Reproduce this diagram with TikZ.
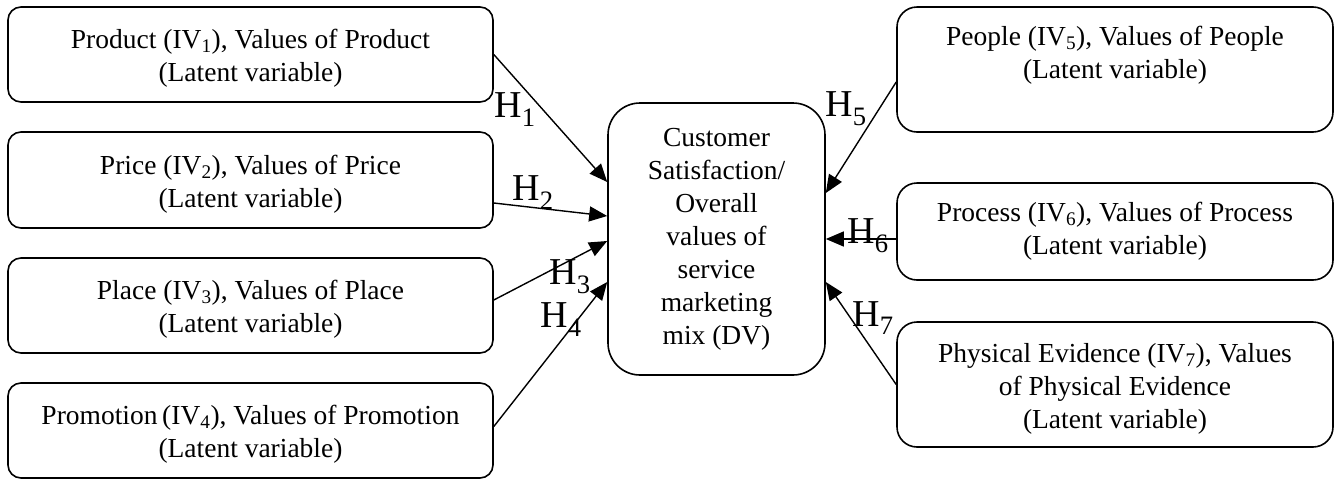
\documentclass[tikz,border=0pt]{standalone}
\usepackage{fontspec}
\setmainfont{Liberation Serif}
\usetikzlibrary{arrows.meta}
\newcommand{\topgap}{\rule{0pt}{27pt}}

\begin{document}
\begin{tikzpicture}[x=1pt,y=-1pt,
		ivbox/.style={draw,rounded corners=13pt,line width=1.6pt,align=center,font=\fontsize{27.5}{33}\selectfont,inner sep=0pt},
		dvbox/.style={draw,rounded corners=32pt,line width=1.6pt,align=center,font=\fontsize{27.5}{33}\selectfont,inner sep=0pt,minimum width=217pt,minimum height=272pt},
		hyp/.style={-{Triangle[length=18pt,width=15pt]},line width=1.4pt},
		hlab/.style={font=\fontsize{38}{40}\selectfont,inner sep=0pt}]
	\useasboundingbox (0,0) rectangle (1335,480);
			\node[ivbox,minimum width=485pt,minimum height=95pt] (iv1) at (250.5,54.5){\topgap Product (IV\textsubscript{1}), Values of Product\\(Latent variable)};
			\node[ivbox,minimum width=485pt,minimum height=96pt] (iv2) at (250.5,180){\topgap Price (IV\textsubscript{2}), Values of Price\\(Latent variable)};
			\node[ivbox,minimum width=485pt,minimum height=95pt] (iv3) at (250.5,305.5){\topgap Place (IV\textsubscript{3}), Values of Place\\(Latent variable)};
			\node[ivbox,minimum width=485pt,minimum height=95pt] (iv4) at (250.5,430.5){\topgap Promotion\,(IV\textsubscript{4}), Values of Promotion\\(Latent variable)};
			
			\node[dvbox] (dv) at (716.5,239){Customer\\Satisfaction/\\Overall\\values of\\service\\marketing\\mix (DV)};
			
			\node[ivbox,rounded corners=20pt,minimum width=436pt,minimum height=125pt] (iv5) at (1115,69.5){\topgap People (IV\textsubscript{5}), Values of People\\(Latent variable)\\\strut};
			\node[ivbox,rounded corners=20pt,minimum width=436pt,minimum height=97pt] (iv6) at (1115,231.5){Process (IV\textsubscript{6}), Values of Process\\(Latent variable)};
			\node[ivbox,rounded corners=20pt,minimum width=436pt,minimum height=125pt] (iv7) at (1115,384.5){\topgap Physical Evidence (IV\textsubscript{7}), Values\\of Physical Evidence\\(Latent variable)};
			
			\draw (iv1.east) edge [hyp] ([yshift=57pt]dv.west);
			\draw ([yshift=-23pt]iv2.east) edge [hyp] ([yshift=23pt]dv.west);
			\draw ([yshift=5.5pt]iv3.east) edge [hyp] ([yshift=-2pt]dv.west);
			\draw ([yshift=4pt]iv4.east) edge [hyp] ([yshift=-43pt]dv.west);
			\draw ([yshift=-12.5pt]iv5.west) edge [hyp] ([yshift=46pt]dv.east);
			\draw ([yshift=-7.5pt]iv6.west) edge [hyp] ([yshift=-7.5pt]iv6.west -| dv.east);
			\draw (iv7.west) edge [hyp] ([yshift=-43pt]dv.east);
			
			\node[hlab] (h1) at (515,110){H\textsubscript{1}};
			\node[hlab] (h2) at (533,193){H\textsubscript{2}};
			\node[hlab] (h3) at (570,277){H\textsubscript{3}};
			\node[hlab] (h4) at (561,320){H\textsubscript{4}};
			\node[hlab] (h5) at (846,109){H\textsubscript{5}};
			\node[hlab] (h6) at (868,236){H\textsubscript{6}};
			\node[hlab] (h7) at (873,318){H\textsubscript{7}};
		\end{tikzpicture}
\end{document}
